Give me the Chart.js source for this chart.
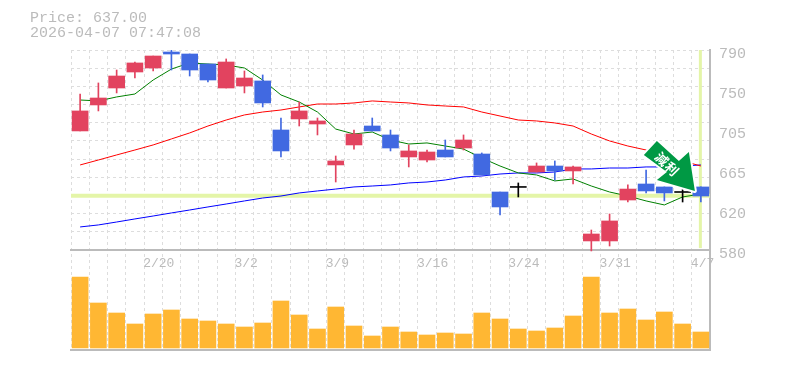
<!DOCTYPE html>
<html>
<head>
<meta charset="utf-8">
<script src="https://cdn.jsdelivr.net/npm/chart.js@4/dist/chart.umd.min.js"></script>
<style>
body { margin: 0; background: #fff; }
canvas { display: block; }
</style>
</head>
<body>
<canvas id="stockChart" width="785" height="370"></canvas>
<script>
// Data
const dates = [
    '2/16','2/17','2/18','2/19','2/20','2/24','2/25','2/26','2/27','3/2',
    '3/3','3/4','3/5','3/6','3/9','3/10','3/11','3/12','3/13','3/16',
    '3/17','3/18','3/19','3/23','3/24','3/25','3/26','3/27','3/30','3/31',
    '4/1','4/2','4/3','4/6','4/7'];
const dateTicks = ['2/20','3/2','3/9','3/16','3/24','3/31','4/7'];
const opens = [705,732.3,750.1,766.9,771.1,787.9,785.8,775.3,750.1,752.2,757.5,706,717.6,712.3,669.3,690.3,710.2,700.8,677.7,674.5,685,687.1,680.8,640.9,646.2,661.9,668.2,663,589.5,589.5,632.5,649.3,646.2,640.9,646.2];
const highs = [743.8,755.4,769,777.4,783.7,790,785.8,775.3,780.6,768,763.8,718.6,735.4,718.6,678.7,706,718.6,706,690.3,685,695.5,700.8,681.9,640.9,650.4,671.4,673.5,668.2,601,617.8,648.3,664,646.2,645.1,646.2];
const lows = [705,726,744.9,760.6,768,769,762.7,756.4,750.1,744.9,730.2,677.7,710.2,700.8,651.4,686,705,684,667.2,672.4,677.7,685,658.8,616.8,635.7,661.9,653.5,649.3,579,584.2,630.4,639.9,631.5,630.4,630.4];
const closes = [726,739.6,762.7,776.4,783.7,785.8,769,758.5,777.4,760.6,734.4,684,726,715.5,673.5,701.8,705,687.1,684,682.9,677.7,695.5,658.8,625.2,646.2,668.2,663,667.2,596.8,610.5,644,642,639.9,640.9,636.7];
const maShort = [737.5,736.5,740.7,743.8,758.5,770,776.4,775.3,774.3,771.1,758.5,742.8,735.4,724.9,707,701.8,703.9,695.5,691.3,692.4,689.2,686,676.6,668.2,660.9,658.8,652.5,654.6,647.2,640.9,636.7,631.5,627.3,635.7,638.8];
const maMid = [669.3,674.5,679.8,685,690.3,696.6,702.9,710.2,716.5,721.8,724.9,727,730.2,733.3,733.3,734.4,736.5,735.4,734.4,732.3,731.2,730.2,724.9,720.7,716.5,715.5,713.4,710.2,701.8,694.5,689.2,685,679.8,673.5,668.2];
const maLong = [604.2,606.3,609.4,612.6,615.7,618.9,622,625.2,628.3,631.5,634.6,636.7,639.9,642,644,646.2,647.2,648.3,650.4,651.4,653.5,656.7,657.7,659.8,660.9,660.9,661.9,665.1,665.1,666.1,666.1,667.2,667.2,668.2,669.3];
const volumes = [71,45,35,24,34,38,29,27,24,21,25,47,33,19,41,22,12,21,16,13,15,14,35,29,19,17,20,32,71,35,39,28,36,24,16];
const priceTicks = [580,622,664,706,748,790];
const priceLabels = ['580','620','665','705','750','790'];
const lastPrice = 637;
const priceText = 'Price: 637.00';
const timeText = '2026-04-07 07:47:08';

const priceMax = 790;
const gridStep = 210 / 11;
const gridTicks = [];
for (let i = 0; i <= 11; i++) {
    gridTicks.push({ value: priceMax - i * gridStep });
}

const upColor = '#e2435f';
const downColor = '#4169e1';
const textColor = '#bbbbbb';
const gridColor = '#dddddd';

function candleColor(i) {
    if (closes[i] > opens[i]) return upColor;
    if (closes[i] < opens[i]) return downColor;
    return '#000000';
}

const colors = opens.map((o, i) => candleColor(i));
// a doji still needs a visible body
const bodies = opens.map((o, i) => o === closes[i] ? [o - 0.5, o + 0.5] : [o, closes[i]]);
const wicks = highs.map((h, i) => [lows[i], h]);

// Pale marker lines at the last price and the last candle
const markerLines = {
    id: 'markerLines',
    beforeDatasetsDraw(chart) {
        const { ctx, chartArea, scales } = chart;
        const yPos = scales.y.getPixelForValue(lastPrice);
        const xPos = scales.x.getPixelForValue(dates.length - 1);
        ctx.save();
        ctx.strokeStyle = '#e4f5a8';
        ctx.lineWidth = 4;
        ctx.beginPath();
        ctx.moveTo(chartArea.left, yPos);
        ctx.lineTo(chartArea.right, yPos);
        ctx.stroke();
        ctx.lineWidth = 3;
        ctx.beginPath();
        ctx.moveTo(xPos - 0.5, chartArea.top);
        ctx.lineTo(xPos - 0.5, scales.y.getPixelForValue(582));
        ctx.stroke();
        ctx.restore();
    }
};

// Green arrow pointing at the last candle
const arrowMarker = {
    id: 'arrowMarker',
    afterDatasetsDraw(chart) {
        const { ctx, scales } = chart;
        const tipX = scales.x.getPixelForValue(dates.length - 1) - 6;
        const tipY = scales.y.getPixelForValue(closes[closes.length - 1]) - 5;
        const outline = [[-38,-50],[-51,-36],[-28,-19],[-38,-11],[0,0],[-6,-39],[-16,-30]];
        ctx.save();
        ctx.translate(tipX, tipY);
        ctx.beginPath();
        outline.forEach((p, i) => i ? ctx.lineTo(p[0], p[1]) : ctx.moveTo(p[0], p[1]));
        ctx.closePath();
        ctx.strokeStyle = '#ffffff';
        ctx.lineWidth = 4;
        ctx.lineJoin = 'round';
        ctx.stroke();
        ctx.fillStyle = '#009944';
        ctx.fill();
        ctx.fillStyle = '#ffffff';
        ctx.font = 'bold 13px "Noto Sans CJK JP"';
        ctx.textAlign = 'center';
        ctx.textBaseline = 'middle';
        ctx.translate(-28, -27);
        ctx.rotate(Math.PI / 4);
        ctx.fillText('減', -7, 0);
        ctx.fillText('利', 7, 0);
        ctx.restore();
    }
};

new Chart(document.getElementById('stockChart'), {
    data: {
        labels: dates,
        datasets: [
            { type: 'bar', label: 'Body', data: bodies, backgroundColor: colors, barThickness: 16, grouped: false, order: 1, yAxisID: 'y' },
            { type: 'bar', label: 'Wick', data: wicks, backgroundColor: colors, barThickness: 1, grouped: false, order: 2, yAxisID: 'y' },
            { type: 'line', label: 'MA short', data: maShort, borderColor: '#008000', borderWidth: 1, pointRadius: 0, tension: 0, order: 3, yAxisID: 'y' },
            { type: 'line', label: 'MA mid', data: maMid, borderColor: '#ff0000', borderWidth: 1, pointRadius: 0, tension: 0, order: 4, yAxisID: 'y' },
            { type: 'line', label: 'MA long', data: maLong, borderColor: '#0000ff', borderWidth: 1, pointRadius: 0, tension: 0, order: 5, yAxisID: 'y' },
            { type: 'bar', label: 'Volume', data: volumes, backgroundColor: '#ffb733', barThickness: 16, grouped: false, order: 6, yAxisID: 'yVol' },
        ],
    },
    options: {
        responsive: false,
        animation: false,
        layout: { padding: { left: 30, bottom: 20 } },
        plugins: {
            legend: { display: false },
            tooltip: { enabled: false },
            title: {
                display: true,
                text: [priceText, timeText],
                align: 'start',
                color: textColor,
                font: { family: '"Liberation Mono"', size: 15, weight: 'normal', lineHeight: 1 },
                padding: { top: 11, bottom: 9 },
            },
        },
        scales: {
            x: {
                type: 'category',
                offset: true,
                position: { y: 580 },
                grid: { offset: true, color: gridColor, drawTicks: false },
                border: { color: textColor, width: 2, dash: [3, 3] },
                ticks: {
                    autoSkip: false,
                    maxRotation: 0,
                    align: 'start',
                    labelOffset: -10,
                    padding: 6,
                    color: textColor,
                    font: { family: '"Liberation Mono"', size: 13 },
                    callback(value) {
                        const label = this.getLabelForValue(value);
                        return dateTicks.includes(label) ? label : '';
                    },
                },
            },
            xBottom: {
                type: 'category',
                position: 'bottom',
                labels: [''],
                afterFit(scale) { scale.height = 0; },
                grid: { display: false },
                ticks: { display: false },
                border: { color: textColor, width: 2 },
            },
            y: {
                position: 'left',
                min: 475,
                max: priceMax,
                afterFit(scale) { scale.width = 41; },
                afterBuildTicks(scale) { scale.ticks = gridTicks; },
                grid: { color: gridColor, drawTicks: false },
                border: { display: false, dash: [3, 3] },
                ticks: { display: false },
            },
            yPrice: {
                position: 'right',
                min: 475,
                max: priceMax,
                afterFit(scale) { scale.width = 75; },
                afterBuildTicks(scale) { scale.ticks = priceTicks.map(v => ({ value: v })); },
                grid: { display: false, drawTicks: false },
                border: { color: textColor, width: 2 },
                ticks: {
                    autoSkip: false,
                    labelOffset: 4,
                    padding: 9,
                    color: textColor,
                    font: { family: '"Liberation Mono"', size: 15 },
                    callback(value) {
                        return priceLabels[priceTicks.indexOf(value)];
                    },
                },
            },
            yVol: {
                display: false,
                min: -2,
                max: 298,
            },
        },
    },
    plugins: [markerLines, arrowMarker],
});
</script>
</body>
</html>
